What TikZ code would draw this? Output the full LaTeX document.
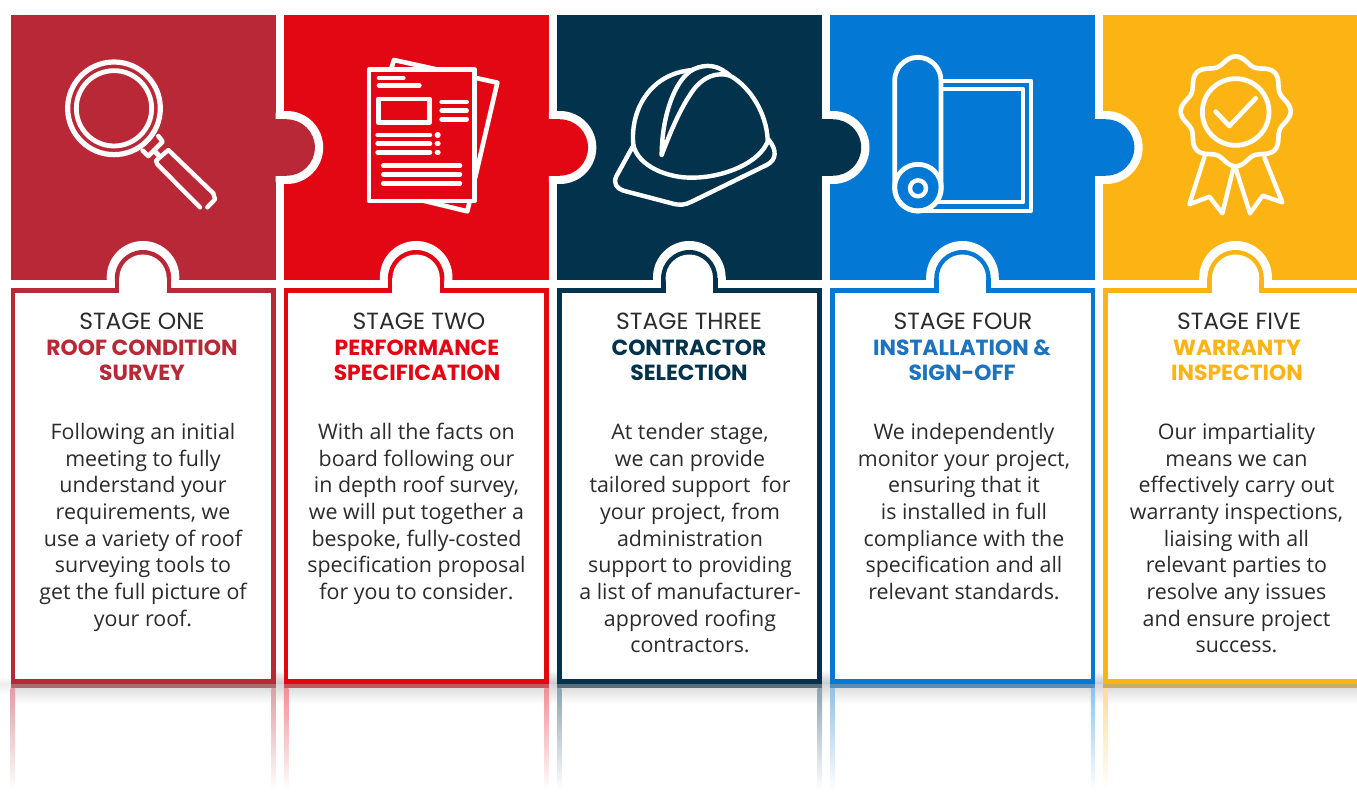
\documentclass[tikz,border=0pt]{standalone}
\usepackage{fontspec}
\setmainfont{Open Sans}
\newfontfamily\headf{Poppins}
\definecolor{cA}{HTML}{B92837}
\definecolor{cB}{HTML}{E30613}
\definecolor{cC}{HTML}{02324C}
\definecolor{cD}{HTML}{0378D4}
\definecolor{cE}{HTML}{FCB415}
\definecolor{ink}{HTML}{2B2B2B}
\definecolor{cDt}{HTML}{1E73BE}
\tikzset{
  icon/.style={draw=white,line width=#1,line cap=round,line join=round},
  icon/.default=1.7pt,
  stagetxt/.style={font=\headf\fontsize{23.4}{25}\selectfont,text=ink,inner sep=0pt,anchor=north,align=center},
  headtxt/.style={font=\headf\bfseries\fontsize{21.9}{25}\selectfont,inner sep=0pt,anchor=north,align=center},
  bodytxt/.style={font=\fontsize{21.4}{26.65}\selectfont,text=ink,inner sep=0pt,anchor=north,align=center},
}
% top square
\newcommand\topsquare[2]{\fill[#2] (#1,15) rectangle ++(265,265);}
% right hand tab of a square
\newcommand\sidetab[2]{%
  \begin{scope}
  \clip (#1+265,100) rectangle ++(60,100);
  \fill[white] (#1+276,147.5) circle[radius=36.5];
  \fill[white] (#1+265,111) rectangle ++(11,73);
  \end{scope}
  \fill[#2] (#1+264,119.3) rectangle ++(12,56.4);
  \fill[#2] (#1+276,147.5) circle[radius=28.2];}
% lower box with its tab
\newcommand\lowerbox[2]{%
  \fill[white] (#1+96,277.3) rectangle ++(72.6,12);
  \fill[white] (#1+132.3,277.3) circle[radius=36.3];
  \fill[#2] (#1+104.1,278.2) rectangle ++(56.4,14);
  \fill[#2] (#1+132.3,278.2) circle[radius=28.2];
  \fill[#2] (#1,288.5) rectangle ++(265,395);
  \fill[white] (#1+4.6,293.3) rectangle ++(255.8,385.7);
  \fill[white] (#1+108.6,278.2) rectangle ++(47.4,16);
  \fill[white] (#1+132.3,278.2) circle[radius=23.7];}
% mirror image under the box
\newcommand\mirror[2]{%
  \fill[#2!55!gray!85!white] (#1,683.5) rectangle ++(265,4.5);
  \shade[top color=#2!45!white,bottom color=white] (#1,688) rectangle ++(4.4,102);
  \shade[top color=#2!45!white,bottom color=white] (#1+260.6,688) rectangle ++(4.4,102);}
\begin{document}
\begin{tikzpicture}[x=1pt,y=-1pt]
\useasboundingbox (0,0) rectangle (1357,794);
% soft shadow
\shade[top color=white,bottom color=black!22] (11,670) rectangle (1357,684);
\shade[top color=black!16,bottom color=white] (11,684) rectangle (1357,704);
\shade[top color=white,bottom color=black!7] (0,676) rectangle (11,684);
\shade[top color=black!7,bottom color=white] (0,684) rectangle (11,696);
\mirror{10.7}{cA}
\mirror{283.85}{cB}
\mirror{557}{cC}
\mirror{830.15}{cD}
\mirror{1103.3}{cE}
\topsquare{10.7}{cA}
\topsquare{283.85}{cB}
\topsquare{557}{cC}
\topsquare{830.15}{cD}
\topsquare{1103.3}{cE}
\sidetab{10.7}{cA}
\sidetab{283.85}{cB}
\sidetab{557}{cC}
\sidetab{830.15}{cD}
\lowerbox{10.7}{cA}
\lowerbox{283.85}{cB}
\lowerbox{557}{cC}
\lowerbox{830.15}{cD}
\lowerbox{1103.3}{cE}
% magnifier (reference zoom coordinates)
\begin{scope}[scale=0.33333]
\draw[icon=5.2pt] (342,325) circle[radius=139];
\draw[icon=4.8pt] (342,325) circle[radius=113];
\draw[icon=4.6pt] (475,408) -- (488,425) -- (445,468) -- (428,452);
\draw[icon=5pt] (462,452) -- (478,468);
\draw[icon=4.4pt] (600,622) -- (472,493) -- (468,482) -- (505,450) -- (640,580) -- (645,598) -- (622,622);
\end{scope}
% documents
\begin{scope}[shift={(340,30)},scale=0.33333]
\draw[icon=4.6pt] (155,112) -- (162,90) -- (472,158) -- (382,544) -- (250,512);
\draw[icon=4.8pt,fill=cB] (87,119) rectangle (403,513);
\foreach \a/\b/\c in {117/190/144,117/238/166,305/380/216,305/380/242,305/380/268,113/270/315,113/270/341,113/270/367,130/360/407,130/360/433,130/360/460}
  \draw[icon=4.6pt] (\a,\c) -- (\b,\c);
\foreach \c in {315,341,367} \draw[icon=5.4pt] (292,\c) -- (294,\c);
\draw[icon=4.8pt] (115,207) rectangle (268,278);
\end{scope}
% helmet
\begin{scope}[shift={(340,30)},scale=0.33333]
\draw[icon=4.4pt] (880,345) .. controls (870,240) and (930,130) .. (1058,120);
\draw[icon=4.4pt] (1170,137) .. controls (1230,170) and (1280,250) .. (1283,330);
\draw[icon=4.4pt] (880,345) .. controls (895,410) and (985,445) .. (1060,443) .. controls (1150,442) and (1260,400) .. (1285,330);
\draw[icon=4.4pt] (878,350) -- (830,437) .. controls (818,460) and (830,475) .. (850,482) -- (995,520) .. controls (1020,527) and (1035,525) .. (1055,515) -- (1280,405) .. controls (1310,390) and (1312,360) .. (1285,328);
\draw[icon=4.4pt] (965,375) .. controls (965,270) and (1000,150) .. (1060,118) .. controls (1100,100) and (1135,105) .. (1170,137) .. controls (1130,125) and (1090,140) .. (1060,180) .. controls (1020,235) and (990,310) .. (965,375);
\end{scope}
% roll
\begin{scope}[shift={(860,30)},scale=0.33333]
\draw[icon=4pt] (250,152) -- (513,152) -- (513,543) -- (190,543);
\draw[icon=4pt] (250,178) -- (490,178) -- (490,517) -- (235,517);
\draw[icon=4.8pt,rounded corners=23.2pt] (104,82) rectangle (243,543);
\draw[icon=4.8pt] (174,473) circle[radius=70];
\draw[icon=4.4pt] (174,475) circle[radius=24];
\end{scope}
% rosette
\begin{scope}[shift={(860,30)},scale=0.33333]
\draw[icon=4.6pt] plot[domain=0:360,samples=121,smooth] ({1127+(154+11*cos(8*\x))*cos(\x)},{244+(154+11*cos(8*\x))*sin(\x)});
\draw[icon=4.8pt] (1127,246) circle[radius=100];
\draw[icon=4.6pt] (1067,245) -- (1108,288) -- (1187,205);
\draw[icon=4.4pt] (1033,382) -- (988,523) -- (1048,500) -- (1087,550) -- (1120,415);
\draw[icon=4.4pt] (1213,382) -- (1267,517) -- (1208,497) -- (1170,550) -- (1127,415);
\end{scope}
% texts
\node[stagetxt] (sA) at (142,312.5) {STAGE ONE};
\node[stagetxt] (sB) at (419,312.5) {STAGE TWO};
\node[stagetxt] (sC) at (689,312.5) {STAGE THREE};
\node[stagetxt] (sD) at (963,312.5) {STAGE FOUR};
\node[stagetxt] (sE) at (1239,312.5) {STAGE FIVE};
\node[headtxt,text=cA] (hA) at (142,340) {ROOF CONDITION\\SURVEY};
\node[headtxt,text=cB] (hB) at (417,340) {PERFORMANCE\\SPECIFICATION};
\node[headtxt,text=cC] (hC) at (689,340) {CONTRACTOR\\SELECTION};
\node[headtxt,text=cDt] (hD) at (962,340) {INSTALLATION \&\\SIGN-OFF};
\node[headtxt,text=cE] (hE) at (1237,340) {WARRANTY\\INSPECTION};
\node[bodytxt] (bA) at (143,423) {Following an initial\\meeting to fully\\understand your\\requirements, we\\use a variety of roof\\surveying tools to\\get the full picture of\\your roof.};
\node[bodytxt] (bB) at (416.5,423) {With all the facts on\\board following our\\in depth roof survey,\\we will put together a\\bespoke, fully-costed\\specification proposal\\for you to consider.};
\node[bodytxt] (bC) at (690,423) {At tender stage,\\we can provide\\tailored support~ for\\your project, from\\administration\\support to providing\\a list of manufacturer-\\approved roofing\\contractors.};
\node[bodytxt] (bD) at (964,423) {We independently\\monitor your project,\\ensuring that it\\is installed in full\\compliance with the\\specification and all\\relevant standards.};
\node[bodytxt] (bE) at (1236.5,423) {Our impartiality\\means we can\\effectively carry out\\warranty inspections,\\liaising with all\\relevant parties to\\resolve any issues\\and ensure project\\success.};
\end{tikzpicture}
\end{document}
